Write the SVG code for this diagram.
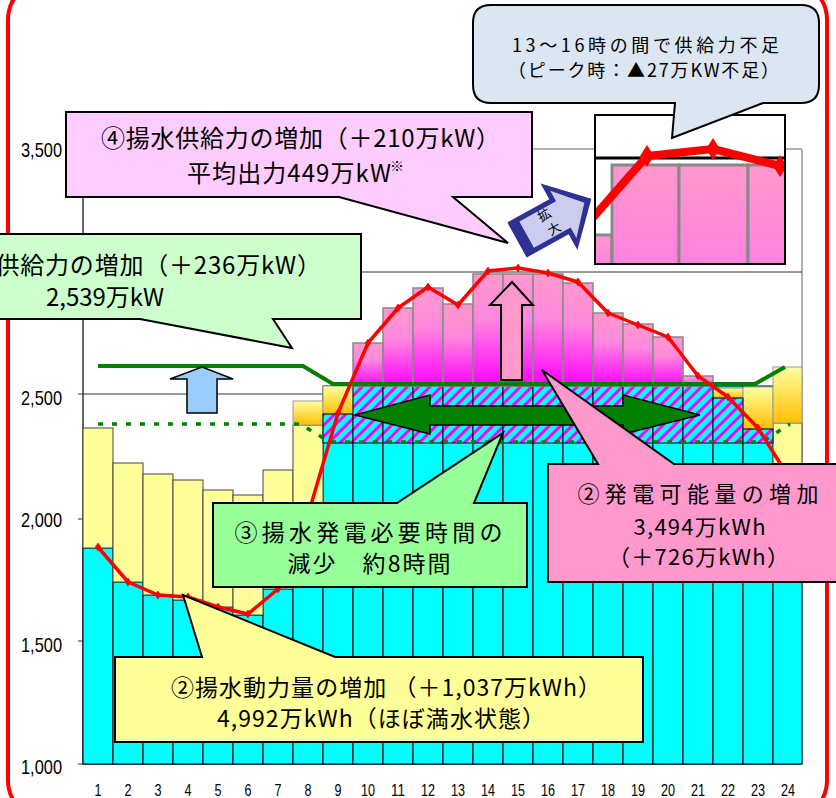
<svg xmlns="http://www.w3.org/2000/svg" width="836" height="798" viewBox="0 0 836 798">
<style>
.jp{font-family:"Noto Sans CJK JP","Noto Sans",sans-serif;fill:#000;text-anchor:middle}
.ax{font-family:"Liberation Sans",Arial,sans-serif;fill:#000}
.cy{fill:#00FFFF;stroke:#000;stroke-width:1}
.py{fill:#FFFF99;stroke:#444;stroke-width:1}
.og{fill:url(#gOrange);stroke:#999;stroke-width:1}
.ht{fill:url(#hatch);stroke:#000;stroke-width:1}
.pk{fill:url(#gPink);stroke:#888;stroke-width:1.5}
.co{stroke:#000;stroke-width:2;stroke-linejoin:miter}
</style>
<defs>
<linearGradient id="gPink" x1="0" y1="0" x2="0" y2="1"><stop offset="0" stop-color="#FF99CC"/><stop offset="0.4" stop-color="#FF88DD"/><stop offset="1" stop-color="#FF00FF"/></linearGradient>
<linearGradient id="gOrange" x1="0" y1="0" x2="0" y2="1"><stop offset="0" stop-color="#FFFFA0"/><stop offset="1" stop-color="#FFC000"/></linearGradient>
<linearGradient id="gInset" x1="0" y1="0" x2="0" y2="1"><stop offset="0" stop-color="#FF99CC"/><stop offset="1" stop-color="#FF80E0"/></linearGradient>
<pattern id="hatch" width="8" height="8" patternUnits="userSpaceOnUse" patternTransform="rotate(45)"><rect width="8" height="8" fill="#00FFFF"/><rect width="3" height="8" fill="#FF00FF"/></pattern>
<marker id="dia" viewBox="-5 -5 10 10" markerWidth="9" markerHeight="9" markerUnits="userSpaceOnUse" refX="0" refY="0"><path d="M0,-5 L3.5,0 L0,5 L-3.5,0 Z" fill="#FF0000"/></marker>
<marker id="diaBig" viewBox="-10 -10 20 20" markerWidth="20" markerHeight="22" markerUnits="userSpaceOnUse" refX="0" refY="0"><path d="M0,-11 L7,0 L0,11 L-7,0 Z" fill="#FF0000"/></marker>
<clipPath id="insetClip"><rect x="596" y="116" width="188" height="147"/></clipPath>
</defs>
<rect width="836" height="798" fill="#fff"/>

<g id="frame"><rect x="8" y="-20" width="819" height="840" rx="40" fill="none" stroke="#FF0000" stroke-width="4"/></g>

<g id="axes">
<line x1="83" y1="149" x2="802" y2="149" stroke="#999" stroke-width="1.5"/>
<line x1="802" y1="149" x2="802" y2="764" stroke="#999" stroke-width="1.5"/>
<line x1="83" y1="272" x2="802" y2="272" stroke="#333" stroke-width="1"/>
<line x1="83" y1="394" x2="802" y2="394" stroke="#333" stroke-width="1"/>
<line x1="83" y1="149" x2="83" y2="764" stroke="#333" stroke-width="1.5"/>
<line x1="83" y1="764" x2="802" y2="764" stroke="#333" stroke-width="1.5"/>
<path d="M78,149H83M78,272H83M78,394H83M78,519H83M78,641H83M78,764H83" stroke="#333" stroke-width="1"/>
<text class="ax" font-size="21" text-anchor="end" x="62" y="157" textLength="41" lengthAdjust="spacingAndGlyphs">3,500</text>
<text class="ax" font-size="21" text-anchor="end" x="62" y="405" textLength="41" lengthAdjust="spacingAndGlyphs">2,500</text>
<text class="ax" font-size="21" text-anchor="end" x="62" y="527" textLength="41" lengthAdjust="spacingAndGlyphs">2,000</text>
<text class="ax" font-size="21" text-anchor="end" x="62" y="652" textLength="41" lengthAdjust="spacingAndGlyphs">1,500</text>
<text class="ax" font-size="21" text-anchor="end" x="62" y="774" textLength="41" lengthAdjust="spacingAndGlyphs">1,000</text>
<g font-size="16" class="ax" text-anchor="middle">
<text x="98" y="796" textLength="7" lengthAdjust="spacingAndGlyphs">1</text>
<text x="128" y="796" textLength="7" lengthAdjust="spacingAndGlyphs">2</text>
<text x="158" y="796" textLength="7" lengthAdjust="spacingAndGlyphs">3</text>
<text x="188" y="796" textLength="7" lengthAdjust="spacingAndGlyphs">4</text>
<text x="218" y="796" textLength="7" lengthAdjust="spacingAndGlyphs">5</text>
<text x="248" y="796" textLength="7" lengthAdjust="spacingAndGlyphs">6</text>
<text x="278" y="796" textLength="7" lengthAdjust="spacingAndGlyphs">7</text>
<text x="308" y="796" textLength="7" lengthAdjust="spacingAndGlyphs">8</text>
<text x="338" y="796" textLength="7" lengthAdjust="spacingAndGlyphs">9</text>
<text x="368" y="796" textLength="14" lengthAdjust="spacingAndGlyphs">10</text>
<text x="398" y="796" textLength="14" lengthAdjust="spacingAndGlyphs">11</text>
<text x="428" y="796" textLength="14" lengthAdjust="spacingAndGlyphs">12</text>
<text x="458" y="796" textLength="14" lengthAdjust="spacingAndGlyphs">13</text>
<text x="488" y="796" textLength="14" lengthAdjust="spacingAndGlyphs">14</text>
<text x="518" y="796" textLength="14" lengthAdjust="spacingAndGlyphs">15</text>
<text x="548" y="796" textLength="14" lengthAdjust="spacingAndGlyphs">16</text>
<text x="578" y="796" textLength="14" lengthAdjust="spacingAndGlyphs">17</text>
<text x="608" y="796" textLength="14" lengthAdjust="spacingAndGlyphs">18</text>
<text x="638" y="796" textLength="14" lengthAdjust="spacingAndGlyphs">19</text>
<text x="668" y="796" textLength="14" lengthAdjust="spacingAndGlyphs">20</text>
<text x="698" y="796" textLength="14" lengthAdjust="spacingAndGlyphs">21</text>
<text x="728" y="796" textLength="14" lengthAdjust="spacingAndGlyphs">22</text>
<text x="758" y="796" textLength="14" lengthAdjust="spacingAndGlyphs">23</text>
<text x="788" y="796" textLength="14" lengthAdjust="spacingAndGlyphs">24</text>
</g>
</g>

<g id="bars">
<rect class="cy" x="83" y="548" width="30" height="216"/>
<rect class="cy" x="113" y="582" width="30" height="182"/>
<rect class="cy" x="143" y="595" width="30" height="169"/>
<rect class="cy" x="173" y="600" width="30" height="164"/>
<rect class="cy" x="203" y="607" width="30" height="157"/>
<rect class="cy" x="233" y="615" width="30" height="149"/>
<rect class="cy" x="263" y="589" width="30" height="175"/>
<rect class="cy" x="293" y="515" width="30" height="249"/>
<rect class="cy" x="323" y="386" width="30" height="378"/>
<rect class="cy" x="353" y="386" width="30" height="378"/>
<rect class="cy" x="383" y="386" width="30" height="378"/>
<rect class="cy" x="413" y="386" width="30" height="378"/>
<rect class="cy" x="443" y="386" width="30" height="378"/>
<rect class="cy" x="473" y="386" width="30" height="378"/>
<rect class="cy" x="503" y="386" width="30" height="378"/>
<rect class="cy" x="533" y="386" width="30" height="378"/>
<rect class="cy" x="563" y="386" width="30" height="378"/>
<rect class="cy" x="593" y="386" width="30" height="378"/>
<rect class="cy" x="623" y="386" width="30" height="378"/>
<rect class="cy" x="653" y="386" width="30" height="378"/>
<rect class="cy" x="683" y="386" width="30" height="378"/>
<rect class="cy" x="713" y="386" width="30" height="378"/>
<rect class="cy" x="743" y="386" width="30" height="378"/>
<rect class="cy" x="773" y="476" width="29" height="288"/>

<rect class="py" x="83" y="428" width="30" height="120"/>
<rect class="py" x="113" y="463" width="30" height="119"/>
<rect class="py" x="143" y="474" width="30" height="121"/>
<rect class="py" x="173" y="480" width="30" height="120"/>
<rect class="py" x="203" y="490" width="30" height="117"/>
<rect class="py" x="233" y="495" width="30" height="120"/>
<rect class="py" x="263" y="470" width="30" height="119"/>
<rect class="py" x="293" y="425" width="30" height="90"/>
<rect class="py" x="773" y="423" width="29" height="53"/>

<rect class="og" x="293" y="401" width="30" height="24"/>
<rect class="og" x="323" y="386" width="30" height="28"/>
<rect class="og" x="713" y="388" width="30" height="10"/>
<rect class="og" x="743" y="387" width="30" height="42"/>
<rect class="og" x="773" y="367" width="29" height="56"/>

<rect class="ht" x="323" y="414" width="30" height="29"/>
<rect class="ht" x="353" y="386" width="30" height="57"/>
<rect class="ht" x="383" y="386" width="30" height="57"/>
<rect class="ht" x="413" y="386" width="30" height="57"/>
<rect class="ht" x="443" y="386" width="30" height="57"/>
<rect class="ht" x="473" y="386" width="30" height="57"/>
<rect class="ht" x="503" y="386" width="30" height="57"/>
<rect class="ht" x="533" y="386" width="30" height="57"/>
<rect class="ht" x="563" y="386" width="30" height="57"/>
<rect class="ht" x="593" y="386" width="30" height="57"/>
<rect class="ht" x="623" y="386" width="30" height="57"/>
<rect class="ht" x="653" y="386" width="30" height="57"/>
<rect class="ht" x="683" y="386" width="30" height="57"/>
<rect class="ht" x="713" y="398" width="30" height="45"/>
<rect class="ht" x="743" y="429" width="30" height="14"/>

<rect class="pk" x="353" y="343" width="30" height="43"/>
<rect class="pk" x="383" y="308" width="30" height="78"/>
<rect class="pk" x="413" y="288" width="30" height="98"/>
<rect class="pk" x="443" y="304" width="30" height="82"/>
<rect class="pk" x="473" y="274" width="30" height="112"/>
<rect class="pk" x="503" y="274" width="30" height="112"/>
<rect class="pk" x="533" y="274" width="30" height="112"/>
<rect class="pk" x="563" y="283" width="30" height="103"/>
<rect class="pk" x="593" y="313" width="30" height="73"/>
<rect class="pk" x="623" y="324" width="30" height="62"/>
<rect class="pk" x="653" y="337" width="30" height="49"/>
<rect class="pk" x="683" y="376" width="30" height="10"/>
</g>

<g id="connectors">
<polyline points="98,424 300,424 330,442 762,442 790,424" fill="none" stroke="#008000" stroke-width="3.5" stroke-dasharray="5 9"/>
<polyline points="98,366 303,366 333,384 755,384 785,367" fill="none" stroke="#008000" stroke-width="4"/>
<polygon points="355,415 430,395 430,406 623,406 623,395 700,415 623,434 623,425 430,425 430,434" fill="#008000" stroke="#000" stroke-width="1.5"/>
<polygon points="202,367 233,379 217,379 217,413 187,413 187,379 170,379" fill="#99CCFF" stroke="#000" stroke-width="1.5"/>
<polygon points="512,282 533,305 522,305 522,380 501,380 501,305 490,305" fill="#FF99CC" stroke="#000" stroke-width="2"/>
<polyline points="98,547 128,582 158,595 188,597 218,607 248,614 278,589 308,515 338,413 368,343 398,308 428,287 458,305 488,271 518,268 548,273 578,282 608,313 638,325 668,337 698,376 728,397 758,428 788,476" fill="none" stroke="#FF0000" stroke-width="3.5" stroke-linejoin="round" marker-start="url(#dia)" marker-mid="url(#dia)" marker-end="url(#dia)"/>
</g>

<g id="zoom-arrow" transform="translate(517,240) rotate(-29)">
<polygon points="0,-20 48,-20 48,-38 85,0 48,38 48,20 0,20" fill="#2E3192"/>
<polygon points="11,-15 53,-15 53,-27 77,0 53,27 53,15 11,15" fill="#CCCCEE"/>
<text class="jp" font-size="13" x="36" y="-4">拡</text>
<text class="jp" font-size="13" x="38" y="13">大</text>
</g>

<g id="inset">
<rect x="595" y="115" width="190" height="149" fill="#fff" stroke="#000" stroke-width="2"/>
<line x1="595" y1="158" x2="785" y2="158" stroke="#000" stroke-width="3"/>
<g clip-path="url(#insetClip)">
<rect x="594" y="235" width="18" height="32" fill="url(#gInset)" stroke="#888" stroke-width="3"/>
<rect x="612" y="165" width="67" height="102" fill="url(#gInset)" stroke="#888" stroke-width="3"/>
<rect x="679" y="165" width="69" height="102" fill="url(#gInset)" stroke="#888" stroke-width="3"/>
<rect x="748" y="165" width="40" height="102" fill="url(#gInset)" stroke="#888" stroke-width="3"/>
<polyline points="590,221 647,156 713,149 780,166" fill="none" stroke="#FF0000" stroke-width="8" stroke-linejoin="round" marker-mid="url(#diaBig)" marker-end="url(#diaBig)"/>
</g>
<rect x="595" y="115" width="190" height="149" fill="none" stroke="#000" stroke-width="2"/>
</g>

<g id="callout-shortage">
<path class="co" d="M491,5 H801 Q819,5 819,23 V85 Q819,103 801,103 H763 L672,138 L675,103 H491 Q473,103 473,85 V23 Q473,5 491,5 Z" fill="#DCE6F2"/>
<text class="jp" font-size="18" x="645.5" y="52" textLength="267" lengthAdjust="spacing">13〜16時の間で供給力不足</text>
<text class="jp" font-size="18" x="643.5" y="77" textLength="271" lengthAdjust="spacing">（ピーク時：▲27万KW不足）</text>
</g>

<g id="callout-4">
<path class="co" d="M66,112 H532 V197 H453 L508,243 L339,197 H66 Z" fill="#FFCCFF"/>
<text class="jp" font-size="24" x="300.5" y="147" textLength="399" lengthAdjust="spacing">④揚水供給力の増加（＋210万kW）</text>
<text class="jp" font-size="24" x="289" y="182" textLength="204" lengthAdjust="spacing">平均出力449万kW</text>
<text class="jp" font-size="14" x="397" y="171">※</text>
</g>

<g id="callout-1">
<path class="co" d="M-20,234 H361 V319 H273 L292,348 L140,319 H-20 Z" fill="#CCFFCC"/>
<text class="jp" font-size="24" x="121" y="274" textLength="400" lengthAdjust="spacing">①揚水供給力の増加（＋236万kW）</text>
<text class="jp" font-size="24" x="105" y="306" textLength="118" lengthAdjust="spacing">2,539万kW</text>
</g>

<g id="callout-3">
<path class="co" d="M213,503 H397 L503,433 L474,503 H527 V587 H213 Z" fill="#99FF99"/>
<text class="jp" font-size="23" x="368.5" y="541" textLength="268" lengthAdjust="spacing">③揚水発電必要時間の</text>
<text class="jp" font-size="23" x="369" y="572" textLength="163" lengthAdjust="spacing">減少　約8時間</text>
</g>

<g id="callout-2-pump">
<path class="co" d="M115,657 H202 L183,595 L335,657 H643 V742 H115 Z" fill="#FFFF99"/>
<text class="jp" font-size="23" x="386" y="696" textLength="430" lengthAdjust="spacing">②揚水動力量の増加 （＋1,037万kWh）</text>
<text class="jp" font-size="23" x="381" y="727" textLength="328" lengthAdjust="spacing">4,992万kWh（ほぼ満水状態）</text>
</g>

<g id="callout-2-gen">
<path class="co" d="M548,464 H598 L542,370 L674,464 H850 V582 H548 Z" fill="#FF99CC"/>
<text class="jp" font-size="22" x="698" y="502" textLength="241" lengthAdjust="spacing">②発電可能量の増加</text>
<text class="jp" font-size="22" x="699.5" y="535" textLength="132" lengthAdjust="spacing">3,494万kWh</text>
<text class="jp" font-size="22" x="698.5" y="565" textLength="181" lengthAdjust="spacing">（＋726万kWh）</text>
</g>
</svg>
